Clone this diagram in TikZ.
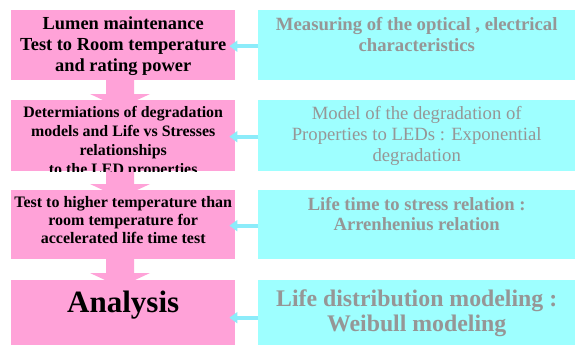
\documentclass[tikz,border=0pt]{standalone}
\usepackage{xcolor}
\usepackage{fontspec}
\setmainfont{Liberation Serif}
\usepackage{tikz}
\usetikzlibrary{positioning,arrows.meta}

\definecolor{stagepink}{RGB}{255,162,216}
\definecolor{notecyan}{RGB}{158,255,255}
\definecolor{linkcyan}{RGB}{140,236,250}
\definecolor{notegray}{RGB}{150,150,150}

\begin{document}
\begin{tikzpicture}[x=1pt, y=-1pt,
    stagebox/.style={fill=stagepink, minimum width=224pt, inner sep=0pt, anchor=north west},
    notebox/.style={fill=notecyan, minimum width=317pt, inner sep=0pt, anchor=north west},
    stagetext/.style={align=center, inner sep=0pt, font=\bfseries},
    notetext/.style={align=center, inner sep=0pt, text=notegray},
    linkarrow/.style={linkcyan, line width=4pt, -{Triangle[width=11pt,length=8pt]}, shorten >=-6pt}
  ]
      \useasboundingbox (0,0) rectangle (575,345);

      % down arrows go first, the boxes hide their tips
      \coordinate (A1) at (120, 80);
      \coordinate (A2) at (120, 171);
      \coordinate (A3) at (120, 259);

      \fill [stagepink] ([xshift=-14pt]A1) -- ++(0,14) -- ++(-16,0) -- ++(30,14) -- ++(30,-14) -- ++(-16,0) -- ++(0,-14) -- cycle;
      \fill [stagepink] ([xshift=-14pt]A2) -- ++(0,13) -- ++(-16,0) -- ++(30,14) -- ++(30,-14) -- ++(-16,0) -- ++(0,-13) -- cycle;
      \fill [stagepink] ([xshift=-14pt]A3) -- ++(0,14) -- ++(-16,0) -- ++(30,14) -- ++(30,-14) -- ++(-16,0) -- ++(0,-14) -- cycle;

      % left column
      \node [stagebox, minimum height=70pt] (P1) at (11, 10) {};
      \node [stagebox, minimum height=71pt] (P2) at (11, 100) {};
      \node [stagebox, minimum height=69pt] (P3) at (11, 190) {};
      \node [stagebox, minimum height=65pt] (P4) at (11, 280) {};

      % right column
      \node [notebox, minimum height=70pt] (C1) at (258, 10) {};
      \node [notebox, minimum height=71pt] (C2) at (258, 100) {};
      \node [notebox, minimum height=69pt] (C3) at (258, 190) {};
      \node [notebox, minimum height=65pt] (C4) at (258, 280) {};

      \node [stagetext, font=\bfseries\fontsize{18.4}{21}\selectfont, below=7pt of P1.north] (T1)
        {Lumen maintenance\\Test to Room temperature\\and rating power};
      \begin{scope}
        \clip (P2.north west) rectangle (P2.south east);
        \node [stagetext, font=\bfseries\fontsize{15.9}{19}\selectfont, below=6.5pt of P2.north] (T2)
          {Determiations of degradation\\models and Life vs Stresses\\relationships\\to the LED properties};
      \end{scope}
      \node [stagetext, font=\bfseries\fontsize{16}{18.3}\selectfont, below=6pt of P3.north] (T3)
        {Test to higher temperature than\\room temperature for\\accelerated life time test};
      \node [stagetext, font=\bfseries\fontsize{31}{34}\selectfont, below=11pt of P4.north] (T4) {Analysis};

      \node [notetext, font=\bfseries\fontsize{18.7}{21}\selectfont, below=7.5pt of C1.north] (N1)
        {Measuring of the optical , electrical\\characteristics};
      \node [notetext, font=\fontsize{18.7}{21}\selectfont, below=6pt of C2.north] (N2)
        {Model of the degradation of\\Properties to LEDs : Exponential\\degradation};
      \node [notetext, font=\bfseries\fontsize{18.6}{20}\selectfont, below=7pt of C3.north] (N3)
        {Life time to stress relation :\\Arrenhenius relation};
      \node [notetext, font=\bfseries\fontsize{23.8}{25}\selectfont, below=10pt of C4.north] (N4)
        {Life distribution modeling :\\Weibull modeling};

      % links from the notes to the stages
      \draw [linkarrow] ([yshift=-1pt]C1.west) -- ([yshift=-1pt]P1.east);
      \draw [linkarrow] ([yshift=-1pt]C2.west) -- ([yshift=-1pt]P2.east);
      \draw [linkarrow] ([yshift=-1pt]C3.west) -- ([yshift=-1pt]P3.east);
      \draw [linkarrow] ([yshift=-5pt]C4.west) -- ([yshift=-5pt]P4.east);
\end{tikzpicture}
\end{document}
